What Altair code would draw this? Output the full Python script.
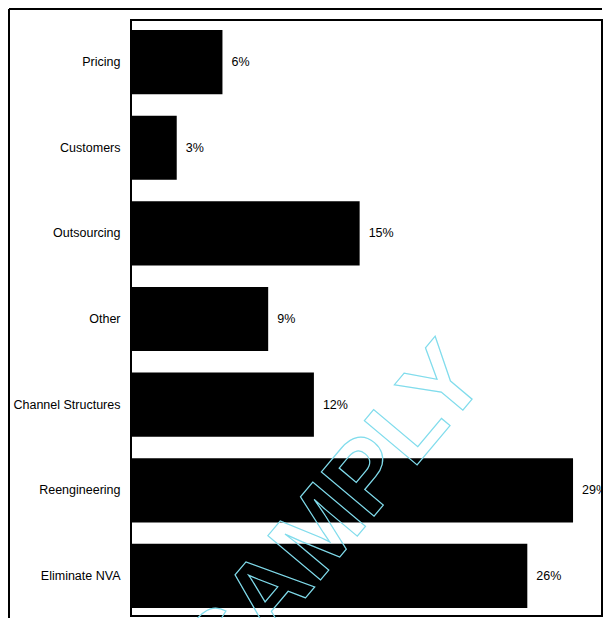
import altair as alt
import pandas as pd

categories = ["Pricing", "Customers", "Outsourcing", "Other",
              "Channel Structures", "Reengineering", "Eliminate NVA"]
values = [6, 3, 15, 9, 12, 29, 26]
value_labels = ["6%", "3%", "15%", "9%", "12%", "29%", "26%"]
watermark_text = "SAMPLY"

df = pd.DataFrame({"category": categories, "value": values, "label": value_labels})
one = pd.DataFrame({"k": [0]})

FONT = "Liberation Sans, Arial, sans-serif"

base = alt.Chart(df).encode(
    y=alt.Y("category:N", sort=categories,
            scale=alt.Scale(paddingInner=0.25, paddingOuter=0.105, align=0.556),
            axis=alt.Axis(title=None, domain=False, ticks=False, labelPadding=11,
                          labelFont=FONT, labelFontSize=12.5, labelColor="black",
                          labelLimit=200)),
    x=alt.X("value:Q", scale=alt.Scale(domain=[0, 30.9], nice=False, zero=True),
            axis=None),
)

bars = base.mark_bar(color="black")
text = base.mark_text(align="left", baseline="middle", dx=9, font=FONT,
                      fontSize=12.5, color="black").encode(text="label:N")

wm = alt.Chart(one).mark_text(
    text=watermark_text, angle=310, fontSize=100, font="Liberation Sans",
    fontWeight="bold", stroke="#80dcec", strokeWidth=1.2, fillOpacity=0,
    align="center", baseline="middle"
).encode(x=alt.value(204), y=alt.value(496))

left = alt.Chart(one).mark_rule(color="black", strokeWidth=2).encode(
    x=alt.value(-122), y=alt.value(-11), y2=alt.value(600))
top = alt.Chart(one).mark_rule(color="black", strokeWidth=2).encode(
    x=alt.value(-122), x2=alt.value(471), y=alt.value(-11))

chart = alt.layer(bars, text, wm, left, top).properties(
    width=471, height=596,
    padding={"left": 123, "top": 12, "right": 1, "bottom": 2},
    autosize=alt.AutoSizeParams(type="none"),
).configure_view(stroke="black", strokeWidth=2)

chart.save("out.html", embed_options={"renderer": "svg", "actions": False})
